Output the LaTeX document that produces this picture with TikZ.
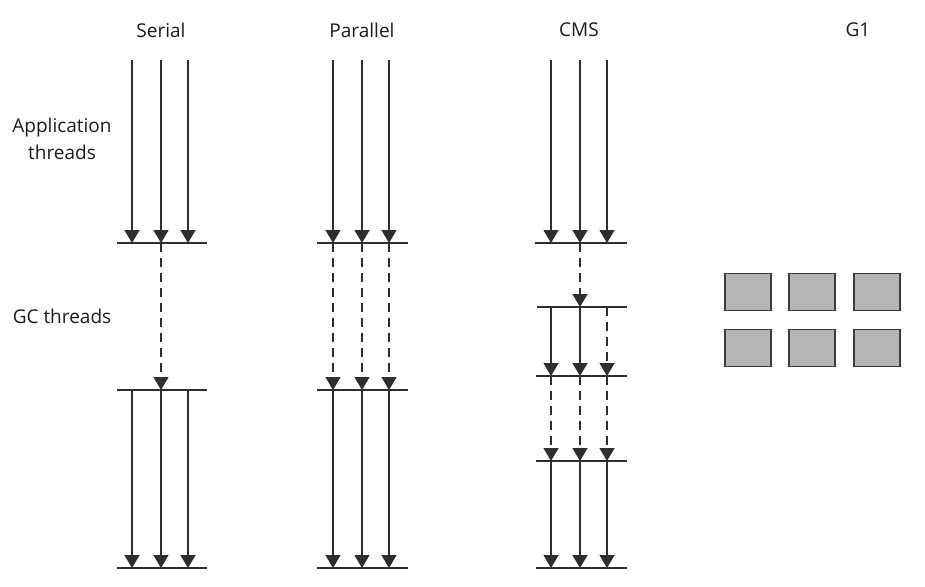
\documentclass[tikz,border=0pt]{standalone}
\usepackage{fontspec}
\setmainfont{Open Sans}
\usetikzlibrary{arrows.meta}
\definecolor{lc}{HTML}{2E2E2E}
\definecolor{tc}{HTML}{1A1A1A}
\definecolor{gf}{HTML}{B5B5B5}
\definecolor{bc}{HTML}{3A3A3A}
\begin{document}
\begin{tikzpicture}[x=1pt,y=-1pt,
  thread/.style={draw=lc, line width=1.5pt, -{Triangle[width=15pt,length=13pt]}},
  dthread/.style={thread, dash pattern=on 9pt off 6pt},
  bar/.style={draw=lc, line width=1.5pt},
  region/.style={draw=bc, fill=gf, line width=1.7pt, minimum width=46pt, minimum height=37pt, inner sep=0pt},
  lbl/.style={font=\fontsize{19}{27}\selectfont, text=tc, align=center}]
\useasboundingbox (0,0) rectangle (925,586);
% titles
\node[lbl] (tserial) at (161,30) {Serial};
\node[lbl] (tpar) at (362,30) {Parallel};
\node[lbl] (tcms) at (579,30) {CMS};
\node[lbl] (tg1) at (858,30) {G1};
\node[lbl] (lapp) at (62,139) {Application\\threads};
\node[lbl] (lgc) at (62,316) {GC threads};
% Serial
\foreach \i/\x in {1/132,2/161,3/188}{
  \coordinate (s\i-0) at (\x,60);
  \coordinate (s\i-1) at (\x,243);
  \coordinate (s\i-2) at (\x,390);
  \coordinate (s\i-3) at (\x,568);
}
\draw[bar] (117,243) -- (207,243);
\draw[bar] (117,390) -- (207,390);
\draw[bar] (117,568) -- (207,568);
\foreach \i in {1,2,3}{
  \draw[thread] (s\i-0) -- (s\i-1);
  \draw[thread] (s\i-2) -- (s\i-3);
}
\draw[dthread] (s2-1) -- (s2-2);
% Parallel
\foreach \i/\x in {1/333,2/362,3/389}{
  \coordinate (p\i-0) at (\x,60);
  \coordinate (p\i-1) at (\x,243);
  \coordinate (p\i-2) at (\x,390);
  \coordinate (p\i-3) at (\x,568);
}
\draw[bar] (317,243) -- (408,243);
\draw[bar] (317,390) -- (408,390);
\draw[bar] (317,568) -- (408,568);
\foreach \i in {1,2,3}{
  \draw[thread] (p\i-0) -- (p\i-1);
  \draw[dthread] (p\i-1) -- (p\i-2);
  \draw[thread] (p\i-2) -- (p\i-3);
}
% CMS
\foreach \i/\x in {1/551,2/580,3/607}{
  \coordinate (c\i-0) at (\x,60);
  \coordinate (c\i-1) at (\x,243);
  \coordinate (c\i-2) at (\x,307);
  \coordinate (c\i-3) at (\x,376);
  \coordinate (c\i-4) at (\x,461);
  \coordinate (c\i-5) at (\x,568);
}
\draw[bar] (535,243) -- (627,243);
\draw[bar] (537,307) -- (627,307);
\draw[bar] (536,376) -- (627,376);
\draw[bar] (536,461) -- (627,461);
\draw[bar] (536,568) -- (627,568);
\foreach \i in {1,2,3}{
  \draw[thread] (c\i-0) -- (c\i-1);
  \draw[dthread] (c\i-3) -- (c\i-4);
  \draw[thread] (c\i-4) -- (c\i-5);
}
\draw[dthread] (c2-1) -- (c2-2);
\draw[thread] (c1-2) -- (c1-3);
\draw[thread] (c2-2) -- (c2-3);
\draw[dthread] (c3-2) -- (c3-3);
% G1 regions
\node[region] (g11) at (748,292) {};
\node[region] (g12) at (812,292) {};
\node[region] (g13) at (877,292) {};
\node[region] (g21) at (748,348) {};
\node[region] (g22) at (812,348) {};
\node[region] (g23) at (877,348) {};
\end{tikzpicture}
\end{document}
